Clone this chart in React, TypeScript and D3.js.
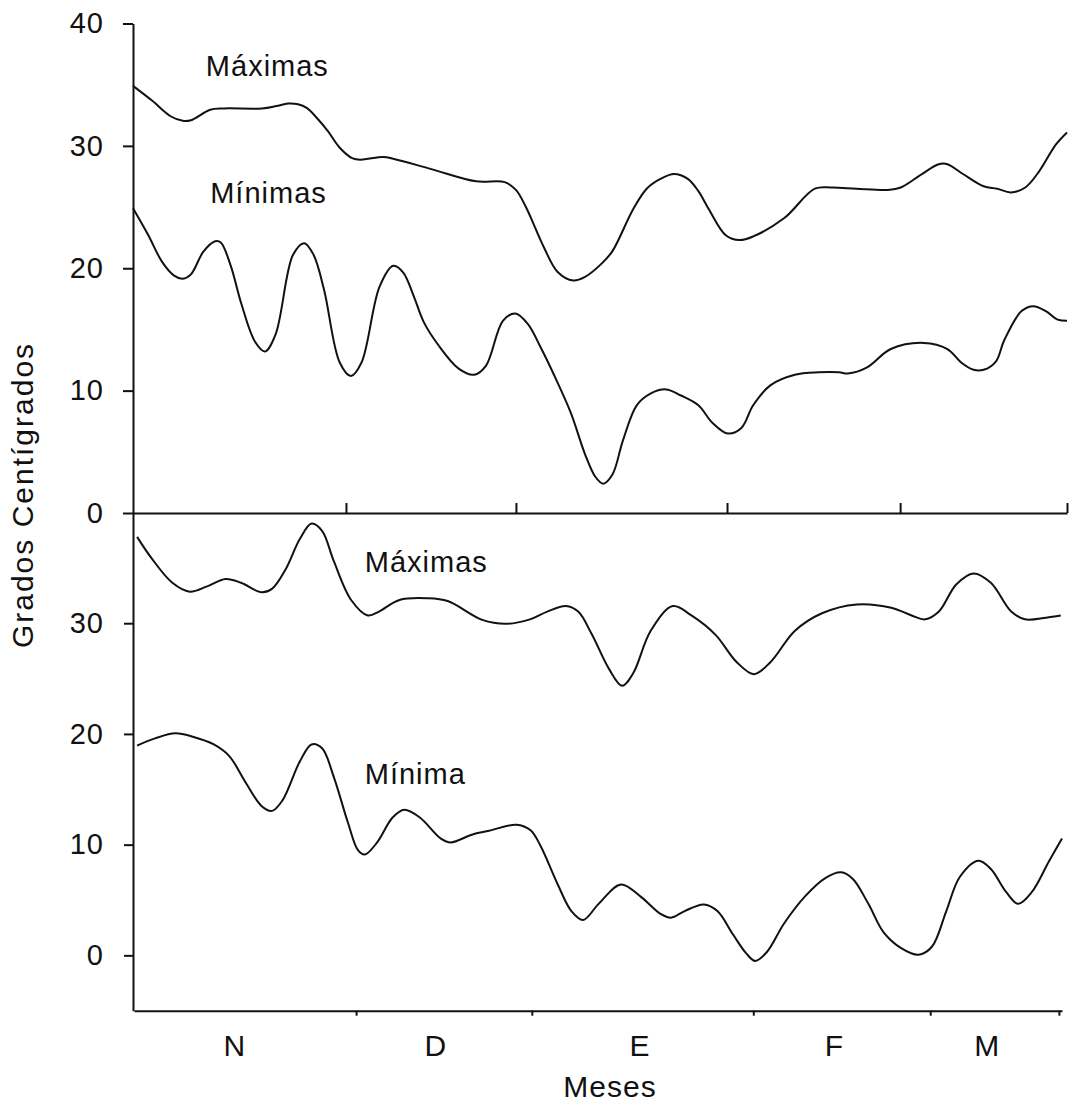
import React, { useEffect, useRef } from "react";
import * as d3 from "d3";

// [día desde el 1 de noviembre, °C]
const topMax: [number, number][] = [
  [0, 34.9], [3.05, 33.7], [6.1, 32.4], [8.0, 32.05], [9.3, 32.1], [12.4, 32.95],
  [14.6, 33.06], [20.7, 33.06], [23.0, 33.25], [24.9, 33.46], [26.5, 33.4], [27.9, 33.1],
  [29.5, 32.3], [31.3, 31.2], [33.2, 29.85], [35.2, 29.0], [36.5, 28.87], [40.2, 29.1],
  [41.8, 28.95], [47.9, 28.1], [55.1, 27.1], [59.7, 27.04], [61.5, 26.4], [63.1, 25.0],
  [66.0, 21.7], [68.2, 19.7], [70.7, 19.0], [72.6, 19.3], [75.3, 20.4], [77.0, 21.4],
  [80.3, 24.8], [82.5, 26.5], [84.7, 27.3], [86.9, 27.7], [89.1, 27.3], [90.8, 26.3],
  [92.5, 24.8], [95.2, 22.7], [97.4, 22.3], [99.6, 22.6], [104.6, 24.1], [109.5, 26.5],
  [112.3, 26.6], [116.2, 26.5], [121.2, 26.4], [123.3, 26.6], [126.7, 27.7], [129.4, 28.5],
  [130.8, 28.5], [133.3, 27.7], [136.6, 26.7], [138.8, 26.5], [141.0, 26.2], [143.3, 26.6],
  [145.5, 27.9], [148.2, 30.1], [150, 31.1],
];

const topMin: [number, number][] = [
  [0, 24.9], [2.4, 22.75], [4.7, 20.5], [6.6, 19.4], [8.0, 19.15], [9.3, 19.5],
  [11.3, 21.35], [13.2, 22.2], [14.1, 22.1], [15.7, 20.2], [17.4, 17.1], [19.6, 14.0],
  [21.2, 13.2], [22.9, 14.6], [25.7, 21.1], [27.5, 22.05], [29.0, 21.1], [30.7, 18.2],
  [33.2, 12.3], [35.0, 11.2], [36.7, 12.3], [39.6, 18.5], [41.8, 20.2], [43.4, 19.65],
  [45.1, 17.7], [46.7, 15.6], [49.0, 13.75], [52.3, 11.8], [54.8, 11.3], [56.7, 12.05],
  [59.4, 15.7], [61.4, 16.3], [63.4, 15.45], [65.5, 13.5], [67.6, 11.3], [70.3, 8.2],
  [72.6, 4.8], [74.2, 3.0], [75.5, 2.4], [77.0, 3.15], [78.7, 5.96], [80.9, 8.8],
  [83.1, 9.75], [85.6, 10.1], [88.0, 9.6], [90.8, 8.8], [93.0, 7.4], [95.5, 6.5],
  [97.7, 6.95], [99.6, 8.8], [102.4, 10.45], [106.3, 11.3], [110.1, 11.5], [113.4, 11.5],
  [114.8, 11.4], [117.9, 11.9], [121.7, 13.4], [127.0, 13.9], [130.8, 13.4], [133.0, 12.3],
  [135.0, 11.7], [136.6, 11.7], [138.6, 12.4], [139.9, 14.1], [142.7, 16.5], [144.6, 16.9],
  [146.6, 16.5], [148.5, 15.8], [150, 15.7],
];

const bottomMax: [number, number][] = [
  [0.5, 37.8], [2.8, 35.9], [6.2, 33.65], [9.0, 32.85], [11.7, 33.3], [14.8, 34.0],
  [17.3, 33.65], [20.6, 32.8], [22.3, 33.1], [24.5, 34.85], [26.8, 37.6], [28.7, 39.0],
  [30.4, 38.35], [32.3, 35.6], [35.1, 32.1], [37.8, 30.7], [39.6, 31.05], [42.9, 32.1],
  [47.4, 32.25], [50.7, 32.0], [56.3, 30.3], [60.2, 29.95], [64.0, 30.35], [66.8, 31.05],
  [69.8, 31.55], [71.8, 31.05], [74.0, 29.0], [76.8, 25.85], [78.9, 24.35], [80.7, 25.5],
  [83.5, 29.3], [87.1, 31.55], [90.1, 30.7], [94.0, 28.95], [97.4, 26.5], [100.2, 25.4],
  [102.9, 26.5], [106.8, 29.3], [111.2, 30.9], [116.8, 31.7], [122.4, 31.4], [125.7, 30.7],
  [127.9, 30.35], [130.1, 31.05], [132.9, 33.5], [135.7, 34.5], [138.5, 33.65], [141.8, 31.05],
  [144.0, 30.35], [147.4, 30.5], [149.8, 30.7],
];

const bottomMin: [number, number][] = [
  [0.5, 18.95], [3.4, 19.6], [6.7, 20.05], [9.5, 19.75], [12.9, 19.05], [15.4, 18.0],
  [17.9, 15.75], [20.6, 13.5], [22.3, 13.05], [24.0, 14.0], [26.8, 17.5], [28.7, 19.05],
  [30.4, 18.7], [32.3, 16.1], [34.6, 11.95], [36.2, 9.5], [37.3, 9.1], [39.3, 10.2],
  [41.8, 12.45], [43.7, 13.15], [46.2, 12.45], [49.6, 10.55], [51.2, 10.2], [54.6, 10.9],
  [57.4, 11.25], [61.8, 11.8], [64.1, 11.3], [65.7, 9.9], [68.5, 6.4], [70.7, 4.0],
  [72.6, 3.2], [75.1, 4.65], [78.7, 6.4], [81.8, 5.35], [85.1, 3.75], [86.8, 3.4],
  [89.0, 4.0], [92.1, 4.6], [94.3, 4.0], [96.8, 1.9], [99.0, 0.15], [100.4, -0.5],
  [102.3, 0.3], [105.1, 2.9], [108.5, 5.35], [111.8, 7.0], [114.3, 7.5], [116.2, 6.9],
  [118.7, 4.65], [121.2, 2.05], [124.0, 0.65], [126.8, 0.05], [129.0, 0.8], [131.3, 4.0],
  [133.5, 7.1], [136.5, 8.55], [138.5, 7.8], [141.0, 5.7], [142.9, 4.65], [145.1, 5.7],
  [147.9, 8.5], [150, 10.55],
];

const topYTicks = [0, 10, 20, 30, 40];
const bottomYTicks = [0, 10, 20, 30];
const topMonthTicks = [34.2, 61.5, 95.4, 123.2, 150];
const bottomMonthTicks = [35.9, 64.3, 100.1, 128.7, 149.5];
const months = ["N", "D", "E", "F", "M"];
const monthCenters = [16.3, 48.8, 81.8, 113.2, 137.9];

// etiquetas de las curvas: [texto, día, °C]
const topLabels: [string, number, number][] = [
  ["Máximas", 11.7, 35.7],
  ["Mínimas", 12.4, 25.3],
];
const bottomLabels: [string, number, number][] = [
  ["Máximas", 37.3, 34.6],
  ["Mínima", 37.3, 15.5],
];

const FONT = "'Liberation Sans', Arial, Helvetica, sans-serif";

const TempChart = () => {
  const svgRef = useRef<SVGSVGElement>(null);

  useEffect(() => {
    document.body.style.margin = "0";
    const svg = d3.select(svgRef.current);
    svg.selectAll("*").remove();

    // escalas de cada panel
    const xTop = d3.scaleLinear().domain([0, 150]).range([133, 1067]);
    const yTop = d3.scaleLinear().domain([0, 40]).range([513, 23.5]);
    const xBot = d3.scaleLinear().domain([0, 150]).range([134, 1062]);
    const yBot = d3.scaleLinear().domain([-5, 40]).range([1010.7, 512.5]);

    const styleAxis = (g) => {
      g.selectAll("path, line").attr("stroke", "#111").attr("stroke-width", 2);
      g.selectAll("text")
        .attr("fill", "#111")
        .style("font-family", FONT)
        .style("font-size", "29px")
        .style("letter-spacing", "1px");
    };

    // eje Y superior
    svg
      .append("g")
      .attr("transform", `translate(${xTop(0)},0)`)
      .call(
        d3.axisLeft(yTop).tickValues(topYTicks).tickSize(10).tickSizeOuter(0).tickPadding(19)
      )
      .call(styleAxis);

    // eje Y inferior
    svg
      .append("g")
      .attr("transform", `translate(${xTop(0)},0)`)
      .call(
        d3.axisLeft(yBot).tickValues(bottomYTicks).tickSize(9).tickSizeOuter(0).tickPadding(20)
      )
      .call(styleAxis);

    // eje X del panel superior (marcas hacia dentro)
    svg
      .append("g")
      .attr("transform", `translate(0,${yTop(0)})`)
      .call(
        d3.axisTop(xTop).tickValues(topMonthTicks).tickSize(10).tickSizeOuter(0).tickFormat(() => "")
      )
      .call(styleAxis);

    // eje X del panel inferior
    svg
      .append("g")
      .attr("transform", `translate(0,${yBot(-5)})`)
      .call(
        d3.axisBottom(xBot).tickValues(bottomMonthTicks).tickSize(5).tickSizeOuter(0).tickFormat(() => "")
      )
      .call(styleAxis);

    const lineTop = d3
      .line<[number, number]>()
      .x((d) => xTop(d[0]))
      .y((d) => yTop(d[1]))
      .curve(d3.curveCatmullRom.alpha(0.5));
    const lineBot = d3
      .line<[number, number]>()
      .x((d) => xBot(d[0]))
      .y((d) => yBot(d[1]))
      .curve(d3.curveCatmullRom.alpha(0.5));

    [topMax, topMin].forEach((s) =>
      svg.append("path").datum(s).attr("d", lineTop).attr("fill", "none")
        .attr("stroke", "#111").attr("stroke-width", 2)
    );
    [bottomMax, bottomMin].forEach((s) =>
      svg.append("path").datum(s).attr("d", lineBot).attr("fill", "none")
        .attr("stroke", "#111").attr("stroke-width", 2)
    );

    const addText = (g, txt, x, y, anchor = "start", size = 29) =>
      g.append("text")
        .attr("x", x)
        .attr("y", y)
        .attr("text-anchor", anchor)
        .attr("fill", "#111")
        .style("font-family", FONT)
        .style("font-size", `${size}px`)
        .style("letter-spacing", "1px")
        .text(txt);

    topLabels.forEach(([t, d, v]) => addText(svg, t, xTop(d), yTop(v)));
    bottomLabels.forEach(([t, d, v]) => addText(svg, t, xBot(d), yBot(v)));

    // meses
    months.forEach((m, i) => addText(svg, m, xBot(monthCenters[i]), 1056, "middle", 30));
    addText(svg, "Meses", 610, 1097, "middle", 30);

    // título del eje Y
    addText(svg, "Grados Centígrados", 0, 0, "middle", 30)
      .attr("transform", "translate(33,495) rotate(-90)")
      .style("letter-spacing", "2px");
  }, []);

  return <svg ref={svgRef} width={1069} height={1103} style={{ display: "block", background: "#fff" }}></svg>;
};

export default function App() {
  return <TempChart />;
}
